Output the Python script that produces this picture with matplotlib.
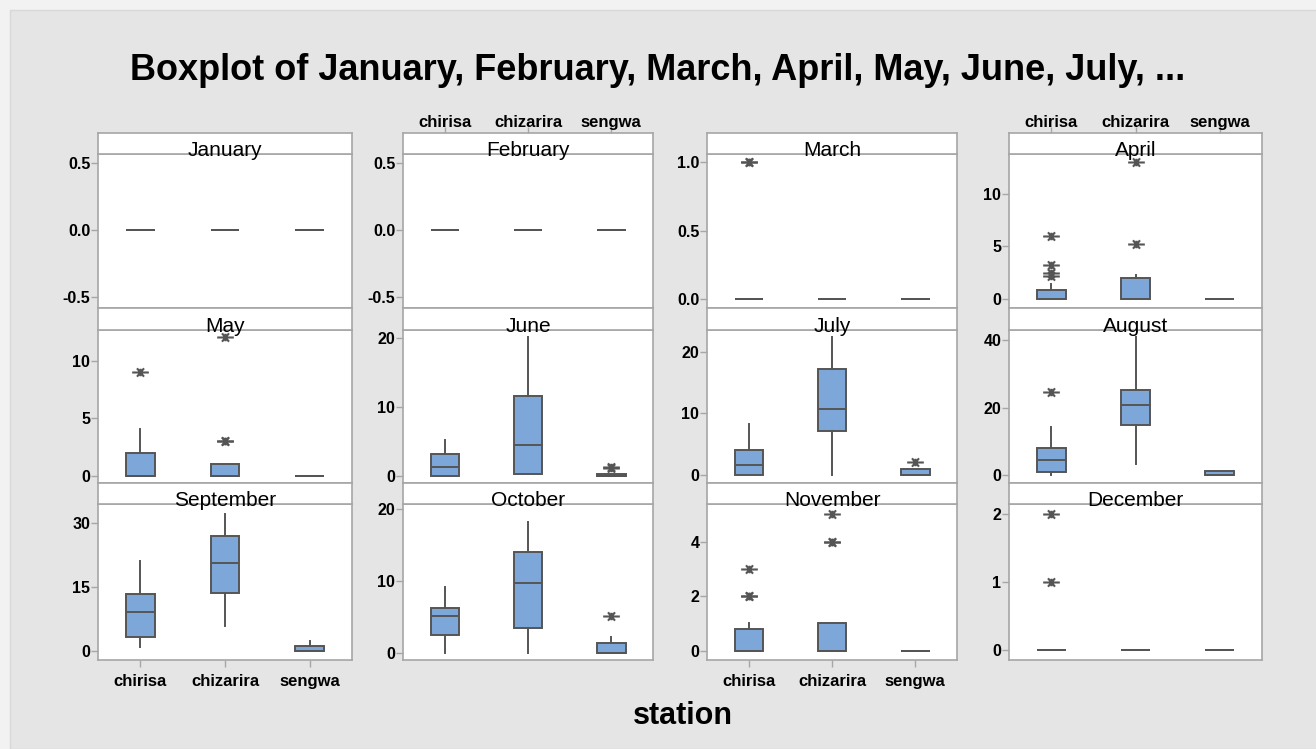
import matplotlib
matplotlib.use('Agg')
import matplotlib.pyplot as plt
from matplotlib.patches import Rectangle
from matplotlib.path import Path

plt.rcParams['font.family'] = ['Liberation Sans', 'DejaVu Sans']

months = ['January', 'February', 'March', 'April', 'May', 'June',
          'July', 'August', 'September', 'October', 'November', 'December']
stations = ['chirisa', 'chizarira', 'sengwa']

# box statistics per month, one entry per station (chirisa, chizarira, sengwa)
q1 = [[0, 0, 0], [0, 0, 0], [0, 0, 0], [0, 0, 0],
      [0, 0, 0], [0, 0.25, 0], [0, 7.2, 0], [0.8, 14.7, 0],
      [3.15, 13.6, 0], [2.5, 3.5, 0], [0, 0, 0], [0, 0, 0]]
med = [[0, 0, 0], [0, 0, 0], [0, 0, 0], [0, 0, 0],
       [0, 0, 0], [1.3, 4.5, 0], [1.6, 10.7, 0], [4.45, 20.8, 0],
       [9.1, 20.6, 0], [5.2, 9.8, 0], [0, 0, 0], [0, 0, 0]]
q3 = [[0, 0, 0], [0, 0, 0], [0, 0, 0], [0.9, 2.0, 0],
      [2.0, 1.0, 0], [3.2, 11.6, 0.2], [4.05, 17.2, 1.0], [8.1, 25.2, 1.2],
      [13.3, 27.0, 1.1], [6.3, 14.1, 1.4], [0.78, 1.0, 0], [0, 0, 0]]
whislo = [[0, 0, 0], [0, 0, 0], [0, 0, 0], [0, 0, 0],
          [0, 0, 0], [0, 0.25, 0], [0, 0, 0], [0, 3.3, 0],
          [0.8, 5.8, 0], [0, 0, 0], [0, 0, 0], [0, 0, 0]]
whishi = [[0, 0, 0], [0, 0, 0], [0, 0, 0], [1.4, 2.3, 0],
          [4.1, 1.0, 0], [5.2, 20.2, 0.2], [8.2, 22.4, 1.0], [14.3, 40.9, 1.2],
          [21.2, 32.1, 2.35], [9.2, 18.2, 2.15], [1.0, 1.0, 0], [0, 0, 0]]
fliers = [[[], [], []], [[], [], []], [[1.0, 1.0], [], []],
          [[2.2, 2.5, 3.2, 6.0], [5.2, 13.0], []],
          [[9.0], [3.0, 3.0, 12.0], []],
          [[], [], [1.1, 1.3]],
          [[], [], [2.1]],
          [[24.7], [], []],
          [[], [], []],
          [[], [], [5.1]],
          [[2.0, 2.0, 3.0], [4.0, 4.0, 5.0], []],
          [[1.0, 2.0], [], []]]

ylims = [(-0.58, 0.57), (-0.58, 0.57), (-0.066, 1.06), (-0.86, 13.8),
         (-0.63, 12.65), (-1.06, 21.2), (-1.3, 23.5), (-2.4, 43),
         (-2.2, 34.5), (-1.0, 20.75), (-0.34, 5.38), (-0.14, 2.14)]
yticks = [[-0.5, 0, 0.5], [-0.5, 0, 0.5], [0, 0.5, 1.0], [0, 5, 10],
          [0, 5, 10], [0, 10, 20], [0, 10, 20], [0, 20, 40],
          [0, 15, 30], [0, 10, 20], [0, 2, 4], [0, 1, 2]]
yticklabels = [['-0.5', '0.0', '0.5'], ['-0.5', '0.0', '0.5'], ['0.0', '0.5', '1.0']] + \
              [[str(t) for t in ticks] for ticks in yticks[3:]]

W, H = 1316, 749
fig = plt.figure(figsize=(W / 100, H / 100), dpi=100, facecolor='#f2f2f2')
fig.patches.append(Rectangle((10 / W, 0), 1, 1 - 10 / H, transform=fig.transFigure,
                             facecolor='#e5e5e5', edgecolor='#d8d8d8', lw=1, zorder=-5))

col_x = [(98, 352), (403, 653), (707, 957), (1009, 1262)]
row_y = [(133, 154, 308), (308, 330, 483), (483, 504, 660)]

box_fill = '#7da7d9'
edge = '#555555'
frame = '#a6a6a6'

# outlier symbol: long horizontal bar through a small asterisk
star = Path([(-1, 0), (1, 0), (-0.42, -0.5), (0.42, 0.5), (-0.42, 0.5), (0.42, -0.5),
             (0, -0.45), (0, 0.45)],
            [Path.MOVETO, Path.LINETO, Path.MOVETO, Path.LINETO, Path.MOVETO, Path.LINETO,
             Path.MOVETO, Path.LINETO])

def fig_rect(x0, y0, x1, y1):
    return [x0 / W, 1 - y1 / H, (x1 - x0) / W, (y1 - y0) / H]

for i, month in enumerate(months):
    r, c = divmod(i, 4)
    x0, x1 = col_x[c]
    ys, yt, yb = row_y[r]

    ax = fig.add_axes(fig_rect(x0, yt, x1, yb))
    sax = fig.add_axes(fig_rect(x0, ys, x1, yt))
    sax.set_xticks([])
    sax.set_yticks([])
    for s in sax.spines.values():
        s.set_color(frame)
        s.set_linewidth(1.2)

    stats = []
    for k in range(3):
        stats.append(dict(q1=q1[i][k], med=med[i][k], q3=q3[i][k],
                          whislo=whislo[i][k], whishi=whishi[i][k],
                          fliers=fliers[i][k], label=stations[k]))
    ax.bxp(stats, positions=[1, 2, 3], widths=0.34, patch_artist=True, showcaps=False,
           boxprops=dict(facecolor=box_fill, edgecolor=edge, linewidth=1.4),
           medianprops=dict(color=edge, linewidth=1.4),
           whiskerprops=dict(color=edge, linewidth=1.4),
           flierprops=dict(marker=star, markersize=12, markeredgecolor=edge,
                           markeredgewidth=1.5, linestyle='none'))

    ax.set_xlim(0.5, 3.5)
    ax.set_ylim(*ylims[i])
    ax.set_yticks(yticks[i])
    ax.set_yticklabels(yticklabels[i], fontsize=11.5, fontweight='bold')
    for s in ax.spines.values():
        s.set_color(frame)
        s.set_linewidth(1.2)
    ax.tick_params(axis='y', direction='out', length=5, width=1, color=frame, pad=0.5)

    if r == 2 and c in (0, 2):
        ax.set_xticks([1, 2, 3])
        ax.set_xticklabels(stations, fontsize=12, fontweight='bold')
        ax.tick_params(axis='x', direction='out', length=5, width=1, color=frame, pad=5)
    elif r == 0 and c in (1, 3):
        sax.set_xlim(0.5, 3.5)
        sax.set_xticks([1, 2, 3])
        sax.xaxis.tick_top()
        sax.set_xticklabels(stations, fontsize=12, fontweight='bold')
        sax.tick_params(axis='x', direction='out', length=4, width=1, color=frame, pad=-2)
        ax.set_xticks([])
    else:
        ax.set_xticks([])

    fig.text((x0 + x1) / 2 / W, 1 - (yt + 2) / H, month, ha='center', va='baseline',
             fontsize=15, color='black')

fig.text(658 / W, 1 - 70 / H, 'Boxplot of January, February, March, April, May, June, July, ...',
         ha='center', va='center', fontsize=26, fontweight='bold')
fig.text(683 / W, 1 - 716 / H, 'station', ha='center', va='center',
         fontsize=22, fontweight='bold')

fig.savefig('out.png', dpi=100, facecolor=fig.get_facecolor())
